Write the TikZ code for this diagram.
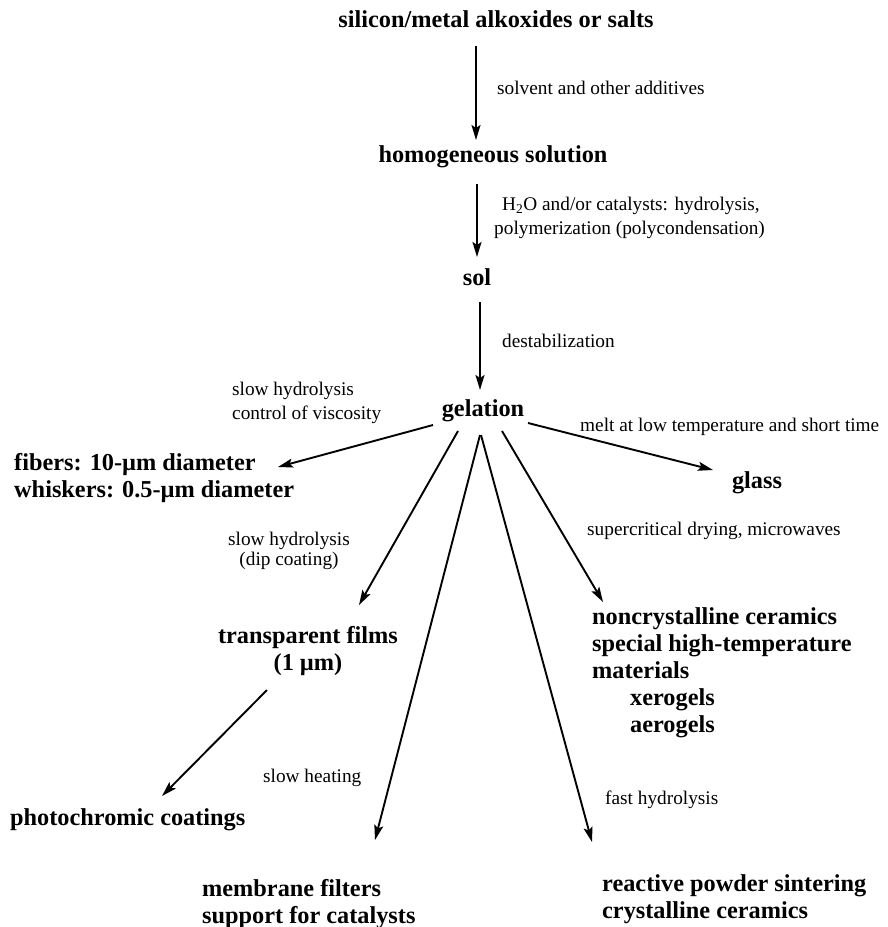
\documentclass[tikz,border=0pt]{standalone}
\usepackage{fontspec}
\setmainfont{Liberation Serif}
\usetikzlibrary{arrows.meta}
\tikzset{
  big/.style={font=\bfseries\fontsize{24.3}{27}\selectfont, inner sep=0pt, align=left},
  small/.style={font=\fontsize{19.3}{24}\selectfont, inner sep=0pt, align=left},
  arr/.style={line width=1.9pt, -{Stealth[length=15pt,width=9pt,inset=3pt]}}
}
\begin{document}
\begin{tikzpicture}[x=1pt,y=-1pt]
\useasboundingbox[fill=white] (0,0) rectangle (887,927);
% main chain
\node[big] (src) at (496,19) {silicon/metal alkoxides or salts};
\node[big] (hom) at (493,157) {homogeneous solution};
\node[big] (sol) at (477,277) {sol};
\node[big] (gel) at (483,411) {gelation};
% products
\node[big,anchor=west] (fib) at (14,478) {fibers: 10-µm diameter\\whiskers: 0.5-µm diameter};
\node[big] (gla) at (757,483) {glass};
\node[big,align=center] (fil) at (308,651) {transparent films\\(1 µm)};
\node[big,anchor=west] (pho) at (10,820) {photochromic coatings};
\node[big,anchor=west] (non) at (592,673) {noncrystalline ceramics\\special high-temperature\\materials\\\hspace*{38pt}xerogels\\\hspace*{38pt}aerogels};
\node[big,anchor=west] (mem) at (202,904) {membrane filters\\support for catalysts};
\node[big,anchor=west] (rea) at (602,899) {reactive powder sintering\\crystalline ceramics};
% labels
\node[small,anchor=west] (l1) at (497,88) {solvent and other additives};
\node[small,anchor=west] (l2) at (494,218) {\hspace*{8pt}H\textsubscript{2}O and/or catalysts: hydrolysis,\\polymerization (polycondensation)};
\node[small,anchor=west] (l3) at (502,341) {destabilization};
\node[small,anchor=west] (l4) at (232,403) {slow hydrolysis\\control of viscosity};
\node[small,anchor=west] (l5) at (580,427) {melt at low temperature and short time};
\node[small,anchor=west] (l6) at (587,531) {supercritical drying, microwaves};
\node[small,align=center,font=\fontsize{19.3}{20}\selectfont] (l7) at (289,551) {slow hydrolysis\\(dip coating)};
\node[small,anchor=west] (l8) at (263,778) {slow heating};
\node[small,anchor=west] (l9) at (605,800) {fast hydrolysis};
% connector end points
\coordinate (srcS) at (476,46);  \coordinate (homN) at (476,140);
\coordinate (homS) at (477,184); \coordinate (solN) at (477,257);
\coordinate (solS) at (480,302); \coordinate (gelN) at (480,390);
\coordinate (gelF) at (433,425); \coordinate (fibE) at (278,467);
\coordinate (gelT) at (458,431); \coordinate (filN) at (359,605);
\coordinate (gelM) at (480,435); \coordinate (memN) at (375,840);
\coordinate (gelR) at (481,435); \coordinate (reaN) at (592,842);
\coordinate (gelC) at (502,431); \coordinate (nonN) at (603,602);
\coordinate (gelG) at (528,423); \coordinate (glaW) at (713,470);
\coordinate (filS) at (267,690); \coordinate (phoN) at (162,796);
% connectors
\draw[arr] (srcS) -- (homN);
\draw[arr] (homS) -- (solN);
\draw[arr] (solS) -- (gelN);
\draw[arr] (gelF) -- (fibE);
\draw[arr] (gelT) -- (filN);
\draw[arr] (gelM) -- (memN);
\draw[arr] (gelR) -- (reaN);
\draw[arr] (gelC) -- (nonN);
\draw[arr] (gelG) -- (glaW);
\draw[arr] (filS) -- (phoN);
\end{tikzpicture}
\end{document}
